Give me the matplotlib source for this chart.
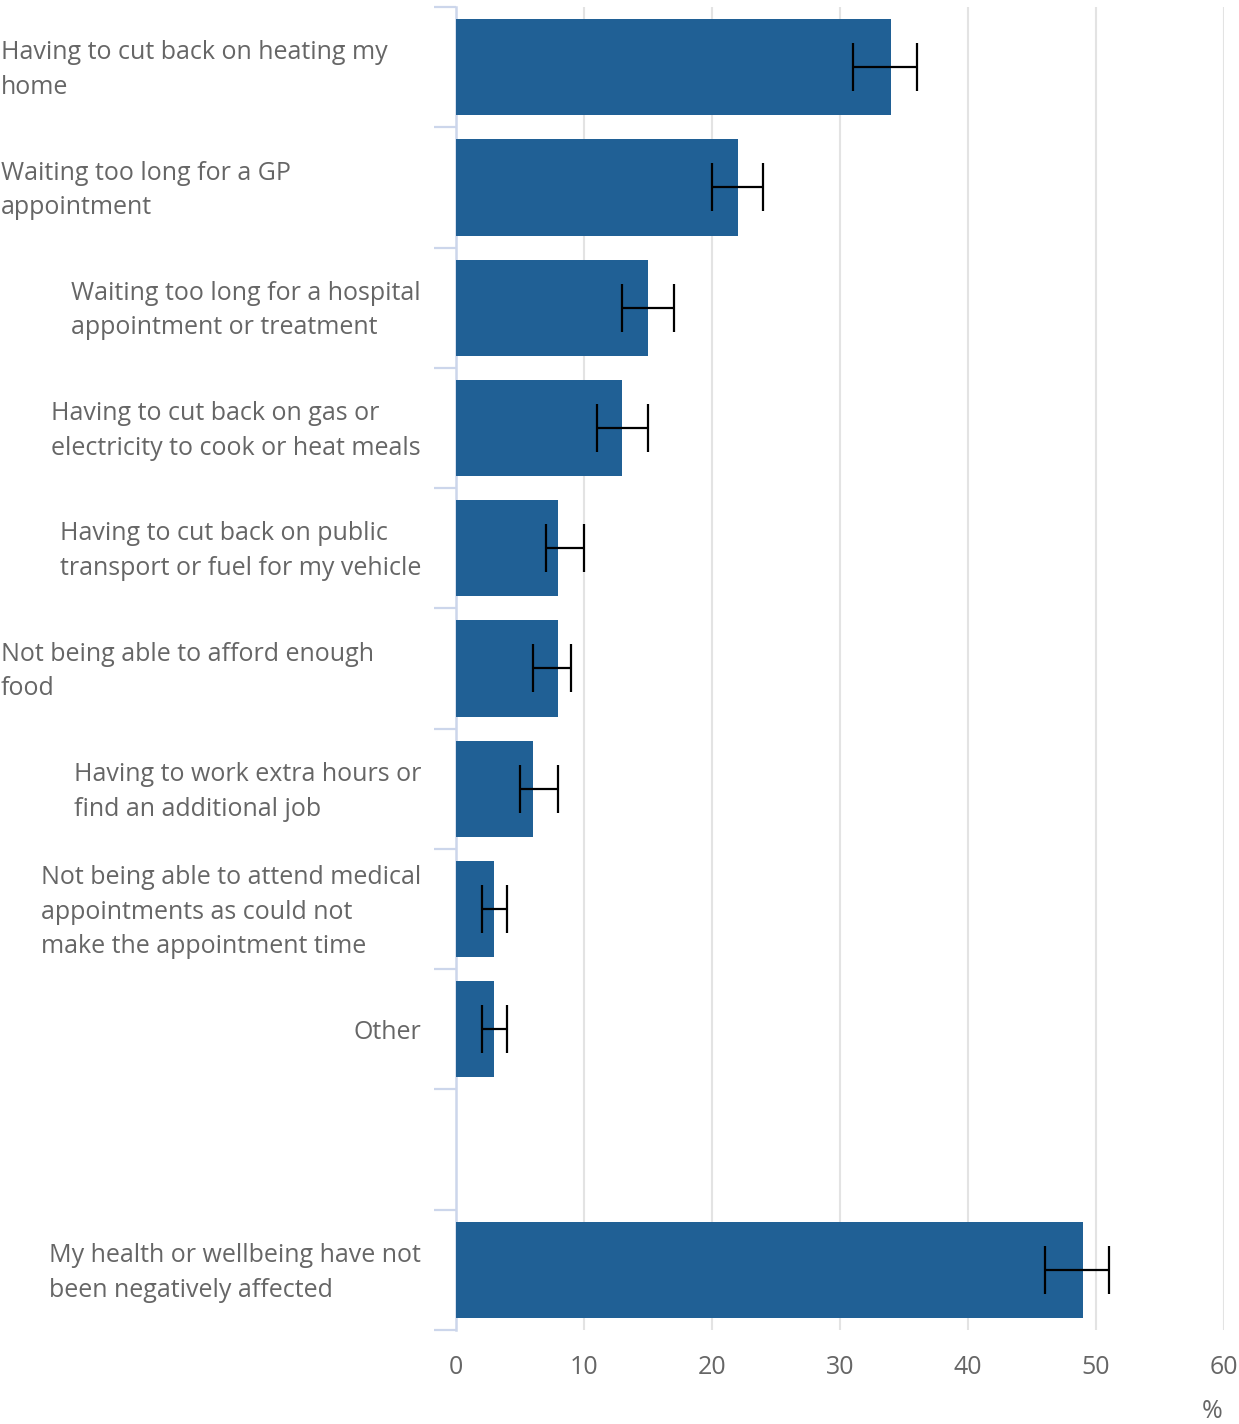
import matplotlib
matplotlib.use("Agg")
import matplotlib.pyplot as plt
import numpy as np

# data
labels = [
    "Having to cut back on heating my\nhome",
    "Waiting too long for a GP\nappointment",
    "Waiting too long for a hospital\nappointment or treatment",
    "Having to cut back on gas or\nelectricity to cook or heat meals",
    "Having to cut back on public\ntransport or fuel for my vehicle",
    "Not being able to afford enough\nfood",
    "Having to work extra hours or\nfind an additional job",
    "Not being able to attend medical\nappointments as could not\nmake the appointment time",
    "Other",
    "",
    "My health or wellbeing have not\nbeen negatively affected",
]
values = [34, 22, 15, 13, 8, 8, 6, 3, 3, np.nan, 49]
ci_low = [31, 20, 13, 11, 7, 6, 5, 2, 2, np.nan, 46]
ci_high = [36, 24, 17, 15, 10, 9, 8, 4, 4, np.nan, 51]
x_ticks = [0, 10, 20, 30, 40, 50, 60]

# label placement (left aligned at the edge, or right aligned against the axis)
label_align = ["left", "left", "right", "right", "right", "left",
               "right", "right", "right", "right", "right"]

W, H = 1239, 1424
fig = plt.figure(figsize=(W / 100, H / 100), dpi=100, facecolor="white")
ax = fig.add_axes([456 / W, 1 - 1330 / H, (1224 - 456) / W, (1330 - 7) / H])

plt.rcParams["font.family"] = ["Open Sans", "DejaVu Sans"]
text_col = "#666666"
axis_col = "#ccd6eb"
bar_col = "#206095"
fs = 18

vals = np.array(values, dtype=float)
lo = np.array(ci_low, dtype=float)
hi = np.array(ci_high, dtype=float)
pos = np.arange(len(labels))
ok = np.isfinite(vals)

ax.barh(pos[ok], vals[ok], height=0.8, color=bar_col, zorder=3)
ax.errorbar(vals[ok], pos[ok],
            xerr=[vals[ok] - lo[ok], hi[ok] - vals[ok]],
            fmt="none", ecolor="black", elinewidth=1.6, capsize=17,
            capthick=1.6, zorder=4)

ax.set_xlim(0, 60)
ax.set_ylim(len(labels) - 0.5, -0.5)
ax.set_xticks(x_ticks)
ax.set_xticklabels([str(t) for t in x_ticks], fontsize=fs, color=text_col,
                   family="Open Sans")
ax.tick_params(axis="x", length=0, pad=18)
ax.xaxis.grid(True, color="#e3e3e3", linewidth=1.5, zorder=0)
ax.set_axisbelow(True)

# category boundaries as y ticks
ax.set_yticks(np.arange(len(labels) + 1) - 0.5)
ax.set_yticklabels([])
ax.tick_params(axis="y", length=16, width=1.6, color=axis_col, direction="out")

for s in ["top", "right", "bottom"]:
    ax.spines[s].set_visible(False)
ax.spines["left"].set_color(axis_col)
ax.spines["left"].set_linewidth(1.8)

# category labels
for i, (lab, al) in enumerate(zip(labels, label_align)):
    if not lab:
        continue
    if al == "left":
        x_fig = 1 / W
    else:
        x_fig = 421 / W
    y_disp = ax.transData.transform((0, i))[1] - 3
    y_fig = fig.transFigure.inverted().transform((0, y_disp))[1]
    fig.text(x_fig, y_fig, lab, ha=al, va="center", multialignment="left",
             fontsize=fs, color=text_col, linespacing=1.5, family="Open Sans")

fig.text(1212 / W, 1 - 1411 / H, "%", ha="center", va="center",
         fontsize=fs, color=text_col, family="Open Sans")

fig.savefig("out.png", dpi=100, facecolor="white")
